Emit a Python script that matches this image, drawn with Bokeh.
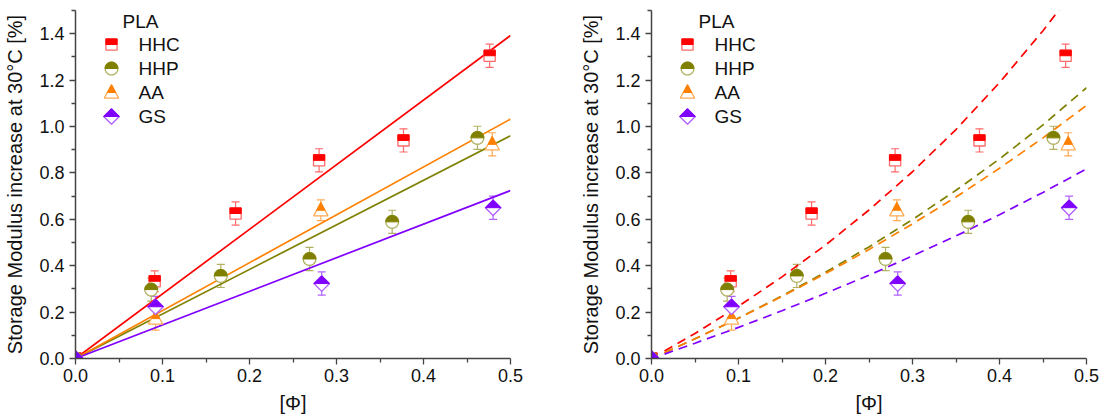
import math
from bokeh.plotting import figure
from bokeh.layouts import row
from bokeh.models import (Range1d, FixedTicker, PrintfTickFormatter, Whisker,
                          TeeHead, ColumnDataSource)
from bokeh.core.properties import value
from bokeh.embed import file_html
from bokeh.resources import INLINE

# ---------------- data ----------------
series_names = ["HHC", "HHP", "AA", "GS"]
legend_title = "PLA"

hhc_phi = [0.0, 0.091, 0.184, 0.280, 0.377, 0.476]
hhc_val = [0.0, 0.333, 0.625, 0.854, 0.940, 1.305]
hhc_err = [0.0, 0.045, 0.050, 0.050, 0.050, 0.050]

hhp_phi = [0.0, 0.087, 0.167, 0.269, 0.364, 0.462]
hhp_val = [0.0, 0.297, 0.356, 0.429, 0.589, 0.951]
hhp_err = [0.0, 0.050, 0.050, 0.050, 0.050, 0.050]

aa_phi = [0.0, 0.092, 0.282, 0.479]
aa_val = [0.0, 0.172, 0.639, 0.923]
aa_err = [0.0, 0.050, 0.045, 0.050]

gs_phi = [0.0, 0.092, 0.283, 0.480]
gs_val = [0.0, 0.223, 0.323, 0.650]
gs_err = [0.0, 0.045, 0.050, 0.050]

# linear fits (left panel)
fit_phi = [0.0, 0.5]
hhc_fit = [0.0, 1.392]
hhp_fit = [0.0, 0.960]
aa_fit = [0.0, 1.032]
gs_fit = [0.0, 0.724]

# model curves (right panel, dashed)
hhc_curve_phi = [0.015, 0.05, 0.10, 0.15, 0.20, 0.25, 0.30, 0.35, 0.40, 0.45, 0.47]
hhc_curve = [0.032, 0.108, 0.225, 0.352, 0.489, 0.640, 0.805, 0.987, 1.189, 1.413, 1.510]
curve_phi = [0.015, 0.05, 0.10, 0.15, 0.20, 0.25, 0.30, 0.35, 0.40, 0.45, 0.50]
hhp_curve = [0.025, 0.085, 0.174, 0.270, 0.372, 0.481, 0.599, 0.725, 0.860, 1.007, 1.167]
aa_curve = [0.025, 0.085, 0.1735, 0.267, 0.366, 0.470, 0.580, 0.696, 0.820, 0.951, 1.091]
gs_curve = [0.019, 0.066, 0.134, 0.206, 0.281, 0.359, 0.442, 0.528, 0.620, 0.716, 0.817]

x_ticks = [0.0, 0.1, 0.2, 0.3, 0.4, 0.5]
x_minor = [0.05, 0.15, 0.25, 0.35, 0.45]
y_ticks = [0.0, 0.2, 0.4, 0.6, 0.8, 1.0, 1.2, 1.4]
y_minor = [0.1, 0.3, 0.5, 0.7, 0.9, 1.1, 1.3, 1.5]

x_label = "[Φ]"
y_label = "Storage Modulus increase at 30°C [%]"

# ---------------- styling ----------------
FONT = "Liberation Sans"
colors = {"HHC": "#ff0000", "HHP": "#808000", "AA": "#ff8000", "GS": "#8000ff"}
light = {"HHC": "#ff6a6a", "HHP": "#b0b060", "AA": "#ffaa55", "GS": "#b060ff"}
shape_of = {"HHC": "square", "HHP": "circle", "AA": "triangle", "GS": "diamond"}

data = {
    "HHC": (hhc_phi, hhc_val, hhc_err),
    "HHP": (hhp_phi, hhp_val, hhp_err),
    "AA": (aa_phi, aa_val, aa_err),
    "GS": (gs_phi, gs_val, gs_err),
}
fits = {"HHC": hhc_fit, "HHP": hhp_fit, "AA": aa_fit, "GS": gs_fit}
curves = {"HHC": (hhc_curve_phi, hhc_curve), "HHP": (curve_phi, hhp_curve),
          "AA": (curve_phi, aa_curve), "GS": (curve_phi, gs_curve)}

FRAME_H = 348


def shape_pixels(kind):
    """outline polygon and top-half polygon, in pixel offsets (y up)."""
    if kind == "square":
        h = 5.6
        o = [(-h, -h), (h, -h), (h, h), (-h, h)]
        f = [(-h, 0), (h, 0), (h, h), (-h, h)]
    elif kind == "circle":
        r = 6.4
        o = [(r * math.cos(2 * math.pi * i / 32), r * math.sin(2 * math.pi * i / 32)) for i in range(32)]
        f = [(r * math.cos(math.pi * i / 16), r * math.sin(math.pi * i / 16)) for i in range(17)]
    elif kind == "triangle":
        o = [(0, 7.8), (7.2, -5.6), (-7.2, -5.6)]
        w = 7.2 * 7.8 / 13.4
        f = [(0, 7.8), (w, 0), (-w, 0)]
    else:  # diamond
        o = [(0, 7.8), (7.8, 0), (0, -7.8), (-7.8, 0)]
        f = [(0, 7.8), (7.8, 0), (-7.8, 0)]
    return o, f


def polys(kind, xs, ys, sx, sy):
    o, f = shape_pixels(kind)
    oxs, oys, fxs, fys = [], [], [], []
    for x, y in zip(xs, ys):
        oxs.append([x + dx * sx for dx, dy in o])
        oys.append([y + dy * sy for dx, dy in o])
        fxs.append([x + dx * sx for dx, dy in f])
        fys.append([y + dy * sy for dx, dy in f])
    return oxs, oys, fxs, fys


def draw_markers(p, name, xs, ys, sx, sy, **kw):
    oxs, oys, fxs, fys = polys(shape_of[name], xs, ys, sx, sy)
    p.patches(oxs, oys, fill_color="white", line_color=light[name], line_width=1.3, **kw)
    p.patches(fxs, fys, fill_color=colors[name], line_color=colors[name], line_width=1.0, **kw)


def make_fig(left_border, frame_w, right_border, mode):
    w = left_border + frame_w + right_border
    p = figure(width=w, height=418, x_range=Range1d(0, 0.5), y_range=Range1d(0, 1.5),
               output_backend="svg", toolbar_location=None,
               min_border_left=left_border, min_border_right=right_border,
               min_border_top=10, min_border_bottom=418 - 10 - FRAME_H)
    p.extra_x_ranges = {"lx": Range1d(0, frame_w)}
    p.extra_y_ranges = {"ly": Range1d(0, FRAME_H)}
    p.outline_line_color = None
    p.grid.visible = False
    p.background_fill_color = "white"
    p.border_fill_color = "white"
    for ax in p.axis:
        ax.axis_line_color = "#444444"
        ax.axis_line_width = 1.5
        ax.major_tick_line_color = "#444444"
        ax.minor_tick_line_color = "#444444"
        ax.major_tick_line_width = 1.3
        ax.minor_tick_line_width = 1.3
        ax.major_tick_out = 6
        ax.major_tick_in = 0
        ax.minor_tick_out = 4
        ax.minor_tick_in = 0
        ax.major_label_text_font = FONT
        ax.major_label_text_font_size = "18px"
        ax.major_label_text_color = "#111111"
        ax.axis_label_text_font = FONT
        ax.axis_label_text_font_size = "20px"
        ax.axis_label_text_font_style = "normal"
        ax.axis_label_text_color = "#111111"
        ax.formatter = PrintfTickFormatter(format="%.1f")
    p.xaxis.ticker = FixedTicker(ticks=x_ticks, minor_ticks=x_minor)
    p.yaxis.ticker = FixedTicker(ticks=y_ticks, minor_ticks=y_minor)
    p.xaxis.axis_label = x_label
    p.yaxis.axis_label = y_label
    p.xaxis.major_label_standoff = 4
    p.yaxis.major_label_standoff = 5
    p.xaxis.axis_label_standoff = 7
    p.yaxis.axis_label_standoff = 10

    sx = 0.5 / frame_w
    sy = 1.5 / FRAME_H

    # fit curves
    for name in series_names:
        if mode == "linear":
            p.line(fit_phi, fits[name], line_color=colors[name], line_width=1.7)
        else:
            cx, cy = curves[name]
            p.line(cx, cy, line_color=colors[name], line_width=1.7, line_dash="9 6")

    # error bars
    for name in series_names:
        xs, ys, es = data[name]
        wx = [x for x, e in zip(xs, es) if e > 0]
        wl = [y - e for y, e in zip(ys, es) if e > 0]
        wu = [y + e for y, e in zip(ys, es) if e > 0]
        src = ColumnDataSource(dict(x=wx, lower=wl, upper=wu))
        wh = Whisker(source=src, base="x", lower="lower", upper="upper",
                     line_color=light[name], line_width=1.2, level="underlay",
                     upper_head=TeeHead(size=8, line_color=light[name], line_width=1.2),
                     lower_head=TeeHead(size=8, line_color=light[name], line_width=1.2))
        p.add_layout(wh)

    # markers
    for name in series_names:
        xs, ys, es = data[name]
        draw_markers(p, name, xs, ys, sx, sy)

    # legend (pixel coordinates inside the frame)
    leg_rows = [44, 68, 92, 116]
    p.text(x=[47], y=[FRAME_H + 10 - 21], text=[legend_title], x_range_name="lx", y_range_name="ly",
           text_font=value(FONT), text_font_size="19px", text_baseline="middle", text_color="#111111")
    for name, ry in zip(series_names, leg_rows):
        ly = FRAME_H + 10 - ry
        draw_markers(p, name, [36], [ly], 1.0, 1.0, x_range_name="lx", y_range_name="ly")
        p.text(x=[63], y=[ly], text=[name], x_range_name="lx", y_range_name="ly",
               text_font=value(FONT), text_font_size="19px", text_baseline="middle",
               text_color="#111111")
    return p


p1 = make_fig(75, 435, 42, "linear")
p2 = make_fig(99, 435, 18, "curve")
layout = row(p1, p2, spacing=0)

open("out.html", "w").write(file_html(layout, INLINE))
